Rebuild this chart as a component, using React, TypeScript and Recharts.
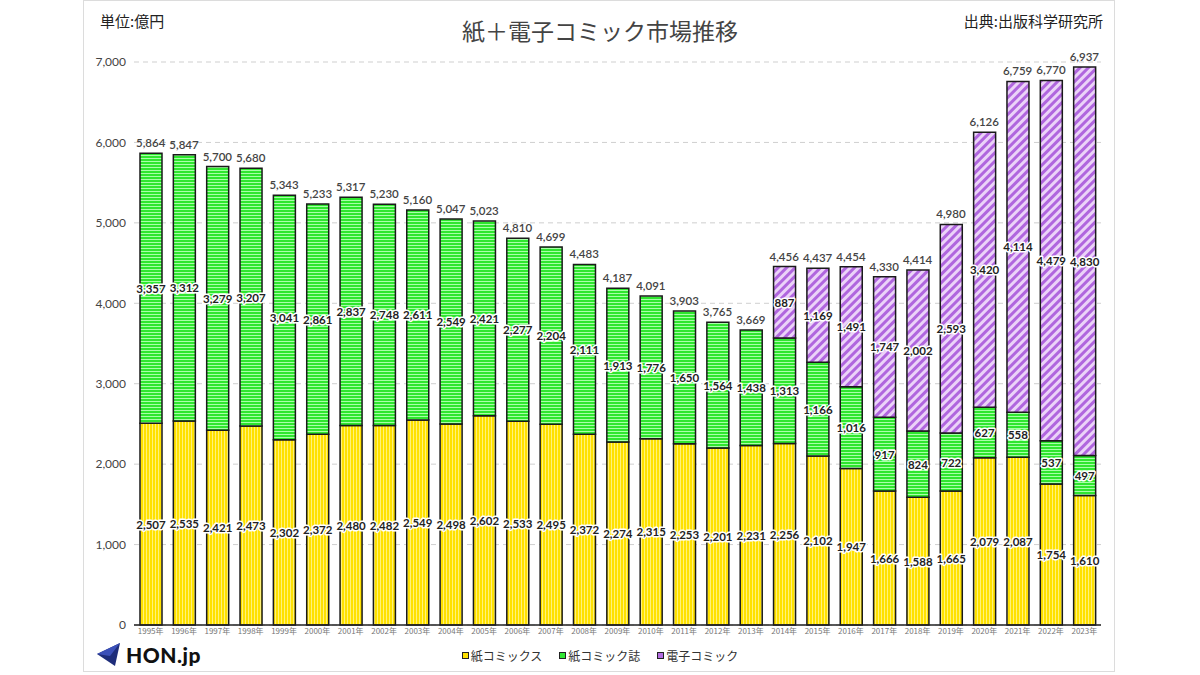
import { ComposedChart, Bar, Line, XAxis, YAxis, CartesianGrid, LabelList } from 'recharts'

const sans = 'Lato, "Noto Sans", "Noto Sans CJK JP", sans-serif'
const jp = '"Noto Sans CJK JP", "Noto Sans", sans-serif'

const years = [
  '1995年', '1996年', '1997年', '1998年', '1999年', '2000年', '2001年', '2002年', '2003年', '2004年',
  '2005年', '2006年', '2007年', '2008年', '2009年', '2010年', '2011年', '2012年', '2013年', '2014年',
  '2015年', '2016年', '2017年', '2018年', '2019年', '2020年', '2021年', '2022年', '2023年',
]
const paperComics = [
  2507, 2535, 2421, 2473, 2302, 2372, 2480, 2482, 2549, 2498,
  2602, 2533, 2495, 2372, 2274, 2315, 2253, 2201, 2231, 2256,
  2102, 1947, 1666, 1588, 1665, 2079, 2087, 1754, 1610,
]
const paperMagazines = [
  3357, 3312, 3279, 3207, 3041, 2861, 2837, 2748, 2611, 2549,
  2421, 2277, 2204, 2111, 1913, 1776, 1650, 1564, 1438, 1313,
  1166, 1016, 917, 824, 722, 627, 558, 537, 497,
]
const digitalComics = [
  null, null, null, null, null, null, null, null, null, null,
  null, null, null, null, null, null, null, null, null, 887,
  1169, 1491, 1747, 2002, 2593, 3420, 4114, 4479, 4830,
]
const totals = [
  5864, 5847, 5700, 5680, 5343, 5233, 5317, 5230, 5160, 5047,
  5023, 4810, 4699, 4483, 4187, 4091, 3903, 3765, 3669, 4456,
  4437, 4454, 4330, 4414, 4980, 6126, 6759, 6770, 6937,
]
const yTicks = [0, 1000, 2000, 3000, 4000, 5000, 6000, 7000]

const series = [
  { key: 'paper', name: '紙コミックス', fill: 'url(#pYellow)', swatch: '#FFE100' },
  { key: 'magazine', name: '紙コミック誌', fill: 'url(#pGreen)', swatch: '#33E633' },
  { key: 'digital', name: '電子コミック', fill: 'url(#pPurple)', swatch: '#B36BE0' },
]

const data = years.map((year, i) => ({
  year,
  paper: paperComics[i],
  magazine: paperMagazines[i],
  digital: digitalComics[i],
  total: totals[i],
}))

const fmt = (v: number) => v.toLocaleString('en-US')

function InnerLabel(props: any) {
  const { x, y, width, height, value } = props
  if (value == null) return null
  return (
    <text
      x={x + width / 2}
      y={y + height / 2}
      textAnchor="middle"
      dominantBaseline="central"
      fontSize={11.5}
      fontWeight={700}
      fontFamily={sans}
      fill="#222"
      stroke="#fff"
      strokeWidth={3}
      strokeLinejoin="round"
      paintOrder="stroke"
    >
      {fmt(value)}
    </text>
  )
}

function Patterns() {
  return (
    <svg width={0} height={0} style={{ position: 'absolute' }}>
      <defs>
        <pattern id="pYellow" patternUnits="userSpaceOnUse" width={3} height={10}>
          <rect width={3} height={10} fill="#FFE100" />
          <rect x={2} width={1} height={10} fill="#FFF27A" />
        </pattern>
        <pattern id="pGreen" patternUnits="userSpaceOnUse" width={10} height={3}>
          <rect width={10} height={3} fill="#2FE62F" />
          <rect y={2} width={10} height={1} fill="#A8FFA8" />
        </pattern>
        <pattern id="pPurple" patternUnits="userSpaceOnUse" width={6} height={6} patternTransform="rotate(45)">
          <rect width={6} height={6} fill="#B066DE" />
          <rect x={3} width={3} height={6} fill="#EBD3F8" />
        </pattern>
      </defs>
    </svg>
  )
}

function Logo() {
  return (
    <div style={{ position: 'absolute', left: 96, top: 641, display: 'flex', alignItems: 'center' }}>
      <svg width={26} height={26} viewBox="0 0 26 26">
        <polygon points="1,13 24,2 19,25" fill="#1E2D7A" />
        <polygon points="1,13 24,2 14,15" fill="#3B50B8" />
      </svg>
      <span style={{ marginLeft: 4, fontFamily: sans, fontWeight: 900, fontSize: 21, color: '#111', letterSpacing: 0.5 }}>
        HON.jp
      </span>
    </div>
  )
}

export default function App() {
  return (
    <div style={{ position: 'fixed', left: 0, top: 0, width: 1200, height: 675, background: '#fff', overflow: 'hidden' }}>
      <Patterns />
      <div style={{
        position: 'absolute', left: 83, top: 0, width: 1032, height: 672,
        border: '1px solid #dcdcdc', boxSizing: 'border-box', background: '#fff',
      }} />
      <div style={{ position: 'absolute', left: 0, top: 0 }}>
        <ComposedChart width={1200} height={675} data={data} margin={{ top: 62, right: 99, bottom: 20, left: 84 }}>
          <CartesianGrid vertical={false} stroke="#cfcfcf" strokeDasharray="5 4" />
          <XAxis
            dataKey="year"
            height={30}
            tickLine={false}
            tickSize={3}
            tickMargin={0}
            interval={0}
            axisLine={{ stroke: '#222', strokeWidth: 1.5 }}
            tick={{ fontSize: 8, fill: '#777', fontFamily: jp }}
          />
          <YAxis
            width={50}
            domain={[0, 7000]}
            ticks={yTicks}
            tickFormatter={fmt}
            axisLine={false}
            tickLine={false}
            tick={{ fontSize: 12, fill: '#444', fontFamily: sans }}
          />
          {series.map((s) => (
            <Bar
              key={s.key}
              dataKey={s.key}
              name={s.name}
              stackId="a"
              barSize={22}
              fill={s.fill}
              stroke="#1a1a1a"
              strokeWidth={1.5}
              isAnimationActive={false}
            >
              <LabelList dataKey={s.key} content={InnerLabel} />
            </Bar>
          ))}
          <Line
            dataKey="total"
            stroke="none"
            dot={false}
            activeDot={false}
            legendType="none"
            isAnimationActive={false}
          >
            <LabelList
              dataKey="total"
              position="top"
              offset={6}
              formatter={(v: any) => fmt(v)}
              style={{ fontSize: 11.5, fill: '#444', fontFamily: sans, fontWeight: 600 }}
            />
          </Line>
        </ComposedChart>
      </div>
      <div style={{ position: 'absolute', left: 100, top: 10, fontFamily: jp, fontSize: 15, color: '#222' }}>単位:億円</div>
      <div style={{ position: 'absolute', right: 97, top: 10, fontFamily: jp, fontSize: 15, color: '#222' }}>出典:出版科学研究所</div>
      <div style={{ position: 'absolute', left: 0, width: 1200, top: 13, textAlign: 'center', fontFamily: jp, fontSize: 23, color: '#444' }}>
        紙＋電子コミック市場推移
      </div>
      <div style={{
        position: 'absolute', left: 0, width: 1200, top: 647, display: 'flex', justifyContent: 'center',
        gap: 17, fontFamily: jp, fontSize: 12, color: '#333',
      }}>
        {series.map((s) => (
          <div key={s.key} style={{ display: 'flex', alignItems: 'center' }}>
            <span style={{ width: 5, height: 5, background: s.swatch, border: '1.5px solid #222', marginRight: 2, display: 'inline-block' }} />
            {s.name}
          </div>
        ))}
      </div>
      <Logo />
    </div>
  )
}
